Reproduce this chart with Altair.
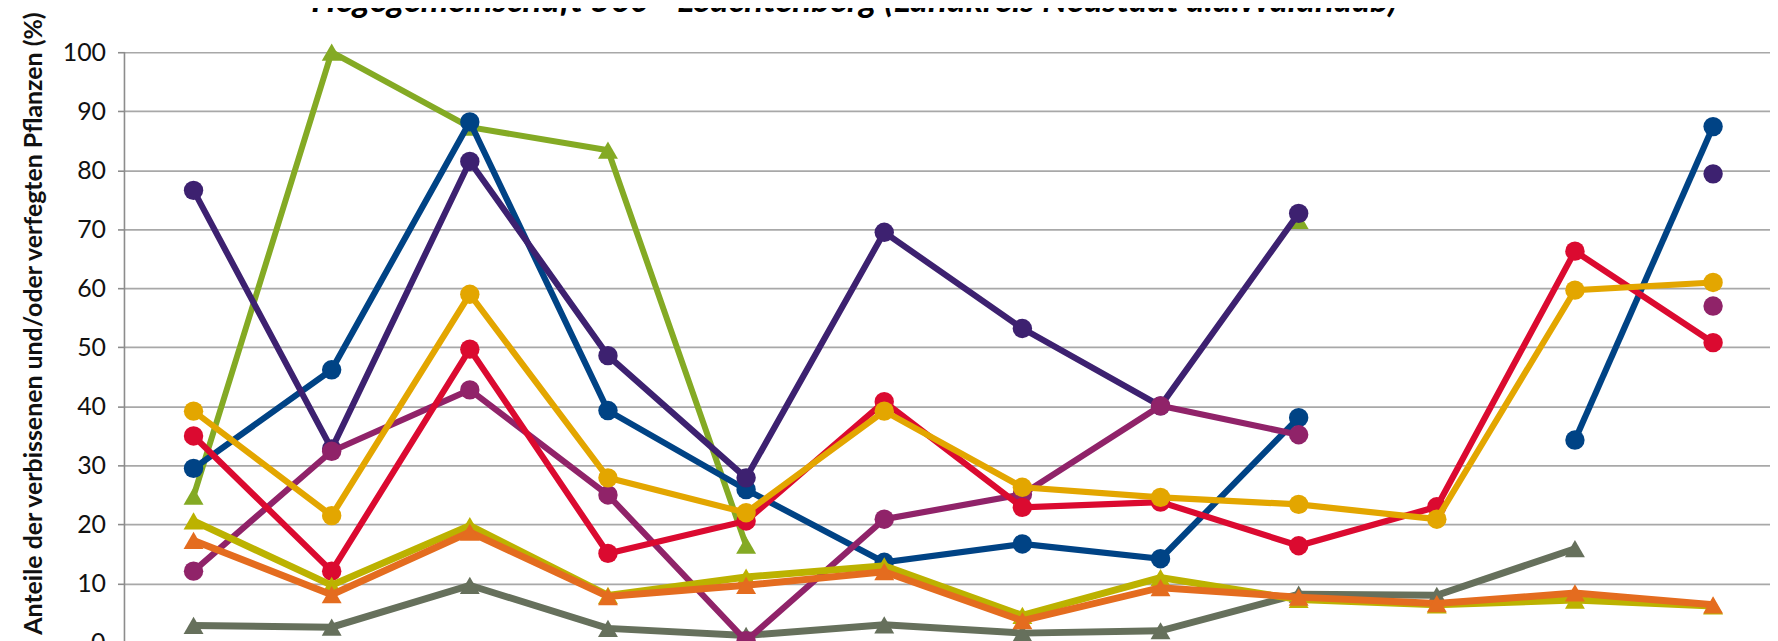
import altair as alt
import pandas as pd

# x positions (inventory rounds); the x axis itself is cropped away in the reference
rounds = list(range(12))

green   = [24.8, 100.0, 87.3, 83.4, 16.5, None, 0.5, None, 71.5, None, None, None]
blue    = [29.5, 46.2, 88.2, 39.3, 25.9, 13.6, 16.7, 14.2, 38.1, None, 34.3, 87.4]
purple  = [76.6, 32.8, 81.5, 48.6, 27.9, 69.5, 53.2, 40.1, 72.7, None, None, 79.4]
magenta = [12.1, 32.4, 42.8, 25.0, 0.3, 20.9, 25.1, 40.1, 35.2, None, None, 57.0]
red     = [35.0, 12.1, 49.7, 15.1, 20.6, 40.8, 22.9, 23.8, 16.4, 23.0, 66.3, 50.8]
gold    = [39.2, 21.5, 59.0, 27.9, 22.0, 39.2, 26.3, 24.6, 23.4, 20.9, 59.7, 61.0]
olive   = [20.6, 9.7, 19.8, 8.0, 11.1, 13.0, 4.6, 11.0, 7.3, 6.4, 7.2, 6.2]
orange  = [17.3, 8.1, 18.7, 7.8, 9.7, 12.0, 3.7, 9.3, 7.7, 6.6, 8.4, 6.4]
gray    = [2.9, 2.6, 9.7, 2.4, 1.2, 3.0, 1.6, 2.0, 8.2, 8.0, 15.9, None]

# drawing order (bottom to top), colour, marker shape, line width
series = [
    ("S1", green,   "#84AA24", "triangle-up", 6.0),
    ("S2", gray,    "#66705C", "triangle-up", 7.0),
    ("S3", blue,    "#004385", "circle", 6.2),
    ("S4", purple,  "#3D2170", "circle", 6.2),
    ("S5", magenta, "#902369", "circle", 6.2),
    ("S6", red,     "#DB0A30", "circle", 6.2),
    ("S7", gold,    "#E3A600", "circle", 6.2),
    ("S8", olive,   "#BCB200", "triangle-up", 7.0),
    ("S9", orange,  "#E46C1F", "triangle-up", 7.0),
]

title_text = "Hegegemeinschaft 560 - Leuchtenberg (Landkreis Neustadt a.d.Waldnaab)"
y_title = "Anteile der verbissenen und/oder verfegten Pflanzen (%)"
tick_values = [10, 20, 30, 40, 50, 60, 70, 80, 90, 100]
zero_label = ["0"]
axis_span = [0, 100]

xscale = alt.Scale(domain=[-0.5, 11.412], nice=False, zero=False)
yscale = alt.Scale(domain=[0.506, 107.25], nice=False, zero=False)

yaxis = alt.Axis(
    values=tick_values, title=y_title, grid=True, domain=False,
    gridColor="#A8A8A8", gridWidth=1.7,
    tickColor="#8C8C8C", tickWidth=1.6, tickSize=7,
    labelFont="Lato", labelFontSize=25, labelColor="#111111", labelPadding=12,
    titleFont="Lato", titleFontSize=25, titleFontWeight="bold", titleColor="#111111",
    titleX=-91, titleY=315, titleBaseline="middle",
)

layers = []

# axis line from 0 up to 100 only
axis_df = pd.DataFrame({"lo": [axis_span[0]], "hi": [axis_span[1]]})
layers.append(
    alt.Chart(axis_df).mark_rule(color="#8C8C8C", strokeWidth=1.6, clip=False).encode(
        x=alt.value(0),
        y=alt.Y("hi:Q", scale=yscale, axis=yaxis),
        y2="lo:Q",
    )
)
# the "0" tick label, mostly cut off at the bottom like in the reference
zero_df = pd.DataFrame({"v": [0], "lab": zero_label})
layers.append(
    alt.Chart(zero_df).mark_text(
        font="Lato", fontSize=25, color="#111111", align="right", baseline="middle",
        clip=False, dx=-19,
    ).encode(x=alt.value(0), y=alt.Y("v:Q", scale=yscale, axis=yaxis), text="lab:N")
)

for name, vals, color, shape, lw in series:
    rows = []
    seg = 0
    prev_none = True
    for i, v in zip(rounds, vals):
        if v is None:
            prev_none = True
            continue
        if prev_none:
            seg += 1
        prev_none = False
        rows.append({"idx": i, "value": v, "seg": seg})
    df = pd.DataFrame(rows)
    base = alt.Chart(df).encode(
        x=alt.X("idx:Q", scale=xscale, axis=None),
        y=alt.Y("value:Q", scale=yscale, axis=yaxis),
    )
    line = base.mark_line(color=color, strokeWidth=lw, clip=False).encode(detail="seg:N")
    pts = base.mark_point(shape=shape, filled=True, opacity=1, color=color,
                          size=380 if shape == "circle" else 400, clip=False)
    layers += [line, pts]

title_df = pd.DataFrame({"t": [title_text]})
title_layer = alt.Chart(title_df).mark_text(
    font="Lato", fontSize=35, fontWeight="bold", fontStyle="italic",
    color="#000000", align="center", baseline="alphabetic", clip=False,
).encode(x=alt.value(733), y=alt.value(3), text="t:N")
layers.append(title_layer)

chart = alt.layer(*layers).properties(
    width=1653, height=633,
    autosize=alt.AutoSizeParams(type="none"),
    padding={"left": 117, "top": 0, "right": 0, "bottom": 0},
).configure_view(stroke=None)

chart.save("out.html", embed_options={"renderer": "svg", "actions": False})
